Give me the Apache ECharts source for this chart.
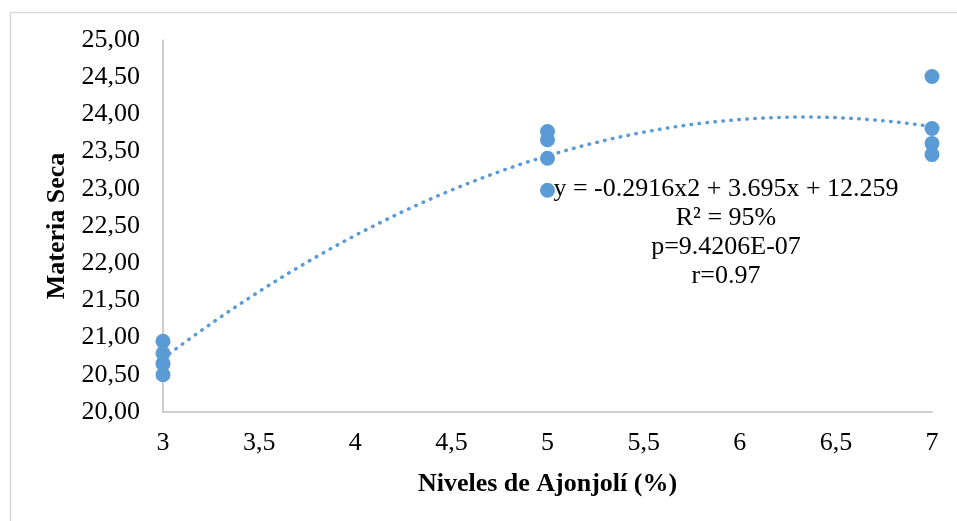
<!DOCTYPE html>
<html>
<head>
<meta charset="utf-8">
<script src="https://cdn.jsdelivr.net/npm/echarts@6/dist/echarts.min.js"></script>
<style>
html,body{margin:0;padding:0;background:#fff;}
#chart{width:957px;height:521px;}
</style>
</head>
<body>
<div id="chart"></div>
<script>
// Observed data (Niveles de Ajonjolí %, Materia Seca)
var xLevels = [3, 3, 3, 3, 5, 5, 5, 5, 7, 7, 7, 7];
var materiaSeca = [20.95, 20.79, 20.65, 20.50, 23.77, 23.66, 23.41, 22.98, 24.51, 23.81, 23.61, 23.46];
// Polynomial trendline coefficients as shown on chart: y = a*x^2 + b*x + c
var trendCoef = [-0.2916, 3.695, 12.259];
var equationLines = ['y = -0.2916x2 + 3.695x + 12.259', 'R² = 95%', 'p=9.4206E-07', 'r=0.97'];
var xTitle = 'Niveles de Ajonjolí (%)';
var yTitle = 'Materia Seca';

var scatterData = xLevels.map(function (x, i) { return [x, materiaSeca[i]]; });
var trendData = [];
for (var k = 0; k <= 80; k++) {
  var x = 3 + k * 0.05;
  trendData.push([x, trendCoef[0] * x * x + trendCoef[1] * x + trendCoef[2]]);
}

var FONT = 'Liberation Serif';
var BLUE = '#5B9BD5';
var chart = echarts.init(document.getElementById('chart'));
chart.setOption({
  backgroundColor: '#fff',
  animation: false,
  grid: { left: 163, right: 25, top: 40, bottom: 109 },
  xAxis: {
    type: 'value', min: 3, max: 7, interval: 0.5,
    name: xTitle, nameLocation: 'middle', nameGap: 59,
    nameTextStyle: { fontFamily: FONT, fontSize: 26, fontWeight: 'bold', color: '#000' },
    axisLine: { show: true, lineStyle: { color: '#BFBFBF', width: 1.5 } },
    axisTick: { show: false },
    splitLine: { show: false },
    axisLabel: {
      margin: 18, fontFamily: FONT, fontSize: 26, color: '#000',
      formatter: function (v) { return String(v).replace('.', ','); }
    }
  },
  yAxis: {
    type: 'value', min: 20, max: 25, interval: 0.5,
    name: yTitle, nameLocation: 'middle', nameGap: 88, nameRotate: 90,
    nameTextStyle: { fontFamily: FONT, fontSize: 26, fontWeight: 'bold', color: '#000' },
    axisLine: { show: true, lineStyle: { color: '#BFBFBF', width: 1.5 } },
    axisTick: { show: false },
    splitLine: { show: false },
    axisLabel: {
      margin: 23, fontFamily: FONT, fontSize: 26, color: '#000',
      formatter: function (v) { return v.toFixed(2).replace('.', ','); }
    }
  },
  series: [
    {
      type: 'line', data: trendData, showSymbol: false, symbol: 'none', smooth: false,
      lineStyle: { color: BLUE, width: 3.5, type: [0.5, 7.5], cap: 'round' },
      z: 2, silent: true
    },
    {
      type: 'scatter', data: scatterData, symbolSize: 15,
      itemStyle: { color: BLUE, opacity: 1 }, z: 3
    }
  ],
  graphic: [
    {
      type: 'rect', left: 8, top: 10, silent: true, z: -1,
      shape: { x: 0, y: 0, width: 1200, height: 800 },
      style: { fill: 'none', stroke: '#D9D9D9', lineWidth: 1.5 }
    },
    {
      type: 'text', x: 726, y: 174.5, z: 10,
      style: {
        text: equationLines.join('\n'), textAlign: 'center', textVerticalAlign: 'top',
        font: '26px "Liberation Serif"', lineHeight: 29, fill: '#000'
      }
    }
  ]
});
</script>
</body>
</html>
